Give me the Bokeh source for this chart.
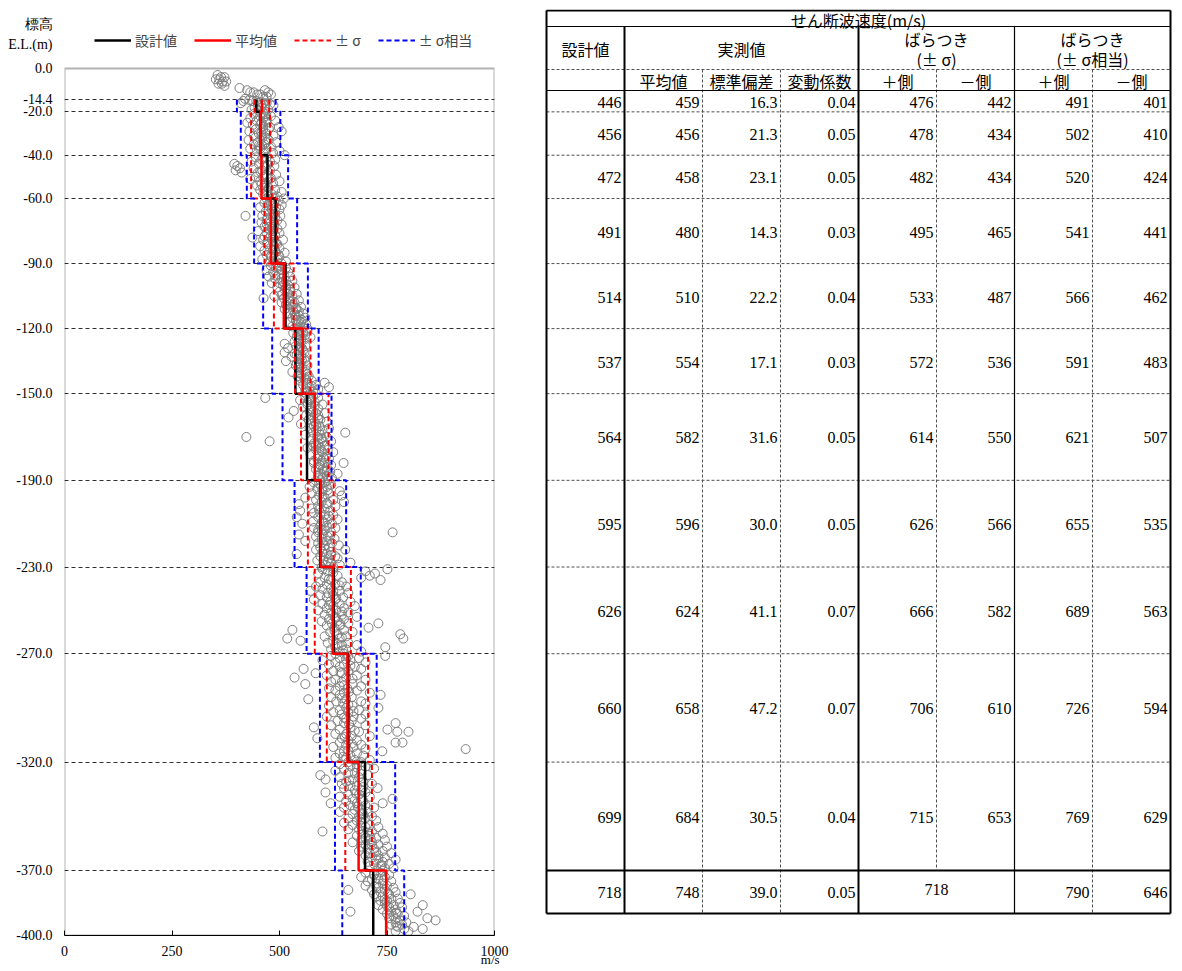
from bokeh.plotting import figure
from bokeh.models import Range1d, FixedTicker, NumeralTickFormatter, Legend, LegendItem, BoxAnnotation, LinearAxis
from bokeh.layouts import row
from bokeh.embed import file_html
from bokeh.resources import INLINE
from bokeh.core.properties import value

# ---------------- data ----------------
layer_top = [-14.4, -20.0, -40.0, -60.0, -90.0, -120.0, -150.0, -190.0, -230.0, -270.0, -320.0, -370.0]
layer_bottom = [-20.0, -40.0, -60.0, -90.0, -120.0, -150.0, -190.0, -230.0, -270.0, -320.0, -370.0, -400.0]
vs_design = [446, 456, 472, 491, 514, 537, 564, 595, 626, 660, 699, 718]
vs_mean = [459, 456, 458, 480, 510, 554, 582, 596, 624, 658, 684, 748]
vs_std = [16.3, 21.3, 23.1, 14.3, 22.2, 17.1, 31.6, 30.0, 41.1, 47.2, 30.5, 39.0]
vs_cv = [0.04, 0.05, 0.05, 0.03, 0.04, 0.03, 0.05, 0.05, 0.07, 0.07, 0.04, 0.05]
sig_plus = [476, 478, 482, 495, 533, 572, 614, 626, 666, 706, 715, None]
sig_minus = [442, 434, 434, 465, 487, 536, 550, 566, 582, 610, 653, None]
sig_merged_last = 718
eq_plus = [491, 502, 520, 541, 566, 591, 621, 655, 689, 726, 769, 790]
eq_minus = [401, 410, 424, 441, 462, 483, 507, 535, 563, 594, 629, 646]

y_ticks = [0.0, -14.4, -20.0, -40.0, -60.0, -90.0, -120.0, -150.0, -190.0, -230.0, -270.0, -320.0, -370.0, -400.0]
x_ticks = [0, 250, 500, 750, 1000]
y_axis_title = ["標高", "E.L.(m)"]
x_axis_title = "m/s"

legend_labels = ["設計値", "平均値", "± σ", "± σ相当"]
table_title = "せん断波速度(m/s)"
header_design = "設計値"
header_meas = "実測値"
header_var1 = ["ばらつき", "(± σ)"]
header_var2 = ["ばらつき", "(± σ相当)"]
sub_headers = ["", "平均値", "標準偏差", "変動係数", "＋側", "－側", "＋側", "－側"]

obs_rows = [
    (-3, [356]), (-4, [364, 372]), (-5, [352, 360]), (-6, [368, 376]), (-7, [358, 366]), (-8, [372]),
    (-9, [407]), (-10, [425, 466]), (-11, [432, 440, 474]), (-12, [448, 455, 480]), (-13, [462, 470]),
    (-14, [420]), (-14.5, [430]), (-15, [416, 438, 446]), (-15.5, [455]), (-16, [410, 462, 470]),
    (-16.5, [478]), (-17, [450, 486]), (-18, [442, 458]), (-18.5, [466]), (-19, [435, 474]), (-19.5, [452]),
    (-21, [440, 468]), (-22, [455, 480, 466]), (-23, [432, 462]), (-24, [447, 490]), (-25, [425, 470, 458]),
    (-26, [438, 455]), (-27, [478, 498]), (-28, [445, 462, 475]), (-29, [430, 505]), (-30, [452, 470]),
    (-31, [440, 486, 458]), (-32, [460]), (-33, [428, 475]), (-34, [450, 492, 468]), (-35, [440, 465]),
    (-36, [455, 480]), (-37, [432, 470, 455]), (-38, [447, 500]), (-39, [462, 485]), (-40, [512]),
    (-41, [445, 470]), (-42, [458, 490]), (-43, [435, 478]), (-44, [395, 452]), (-45, [402, 466, 488]),
    (-46, [408, 440]), (-47, [398, 460, 478]), (-48, [412, 450]), (-49, [470, 492]), (-50, [445, 462]),
    (-51, [432, 478]), (-52, [455, 500]), (-53, [468, 485]), (-54, [448, 465]), (-55, [462, 475]),
    (-56, [455, 490]), (-57, [470, 505]), (-58, [462, 482]), (-59, [475, 495]), (-60, [470, 510]),
    (-61, [478, 498]), (-62, [465, 488]), (-63, [472, 505]), (-64, [455, 492]), (-65, [482, 500]),
    (-66, [468, 485]), (-67, [476, 490]), (-68, [421, 460, 502]), (-69, [485, 472]), (-70, [470, 495]),
    (-71, [458, 480]), (-72, [488, 505]), (-73, [465, 478]), (-74, [483, 495]), (-75, [450, 485]),
    (-76, [470, 500]), (-77, [480, 490]), (-78, [437, 478]), (-79, [462, 508]), (-80, [485, 472]),
    (-81, [472, 495]), (-82, [455, 488]), (-83, [478, 500]), (-84, [465, 490]), (-85, [490, 512]),
    (-86, [470, 498]), (-87, [482, 500]), (-88, [460, 495]), (-89, [478, 515]), (-90, [505]),
    (-91, [480, 500]), (-92, [492, 515]), (-93, [470, 505]), (-94, [485, 520]), (-95, [498, 510]),
    (-96, [475, 525]), (-97, [490, 505]), (-98, [515, 530]), (-99, [482, 500]), (-100, [508, 520]),
    (-101, [495, 535]), (-102, [512, 525]), (-103, [500, 525]), (-104, [518, 540]), (-105, [488, 530]),
    (-106, [463, 510, 522]), (-107, [522, 545]), (-108, [505, 535]), (-109, [515, 532]), (-110, [528, 550]),
    (-111, [512, 540]), (-112, [532, 545]), (-113, [520, 555]), (-114, [538, 545]), (-115, [530, 560]),
    (-116, [538, 552]), (-117, [522, 550]), (-118, [540, 562]), (-119, [530, 548]), (-120, [565, 545]),
    (-121, [545, 565]), (-122, [532, 555]), (-123, [548, 560]), (-124, [540, 572]), (-125, [550, 558]),
    (-126, [535, 550]), (-127, [512, 545]), (-128, [538, 560]), (-129, [520, 552]), (-130, [545, 555]),
    (-131, [512, 558]), (-132, [540, 550]), (-133, [528, 550]), (-134, [545, 558]), (-135, [515, 560]),
    (-136, [548, 540]), (-137, [538, 565]), (-138, [552, 545]), (-139, [545, 560]), (-140, [530, 560]),
    (-141, [550, 565]), (-142, [542, 568]), (-143, [558, 550]), (-144, [548, 575]), (-145, [565, 605]),
    (-146, [555, 585]), (-147, [570, 615]), (-148, [560, 590]), (-149, [578, 565]), (-150, [570, 585]),
    (-151, [560, 578]), (-152, [467, 590]), (-153, [548, 570]), (-154, [582, 565]), (-155, [565, 600]),
    (-156, [555, 575]), (-157, [590, 572]), (-158, [533, 570]), (-159, [585, 605]), (-160, [562, 590]),
    (-161, [521, 578]), (-162, [568, 595]), (-163, [582, 610]), (-164, [550, 575]), (-165, [592, 580]),
    (-166, [570, 615]), (-167, [585, 600]), (-168, [578, 653]), (-169, [560, 595]), (-170, [423, 588, 610]),
    (-171, [575, 598]), (-172, [477, 600, 620]), (-173, [590, 580]), (-174, [578, 605]), (-175, [565, 595]),
    (-176, [585, 612]), (-177, [600, 625]), (-178, [572, 592]), (-179, [608, 590]), (-180, [588, 615]),
    (-181, [598, 580]), (-182, [580, 605, 649]), (-183, [620, 595]), (-184, [592, 610]), (-185, [585, 600]),
    (-186, [603, 618]), (-187, [595, 635]), (-188, [590, 610]), (-189, [600, 622]), (-190, [612, 595]),
    (-191, [580, 605]), (-192, [595, 620]), (-193, [570, 610]), (-194, [588, 600]), (-195, [600, 640]),
    (-196, [575, 615]), (-197, [592, 645]), (-198, [560, 605]), (-199, [585, 625]), (-200, [598, 650]),
    (-201, [545, 612]), (-202, [590, 630]), (-203, [575, 605]), (-204, [548, 618]), (-205, [580, 595]),
    (-206, [605, 625]), (-207, [540, 590]), (-208, [612, 635]), (-209, [578, 600]), (-210, [553, 622]),
    (-211, [595, 610]), (-212, [580, 630]), (-213, [605, 590]), (-214, [590, 620, 763]), (-215, [545, 600]),
    (-216, [585, 612]), (-217, [598, 628]), (-218, [560, 610]), (-219, [590, 622]), (-220, [605, 638]),
    (-221, [595, 615]), (-222, [585, 653]), (-223, [600, 620]), (-224, [540, 610]), (-225, [595, 630]),
    (-226, [615, 635]), (-227, [588, 602]), (-228, [620, 665]), (-229, [608, 640]), (-230, [598, 625]),
    (-231, [600, 625, 751]), (-232, [612, 700]), (-233, [590, 722]), (-234, [635, 710]), (-235, [605, 690]),
    (-236, [620, 735]), (-237, [595, 645]), (-238, [610, 630]), (-239, [585, 655]), (-240, [600, 620]),
    (-241, [572, 640]), (-242, [612, 660]), (-243, [595, 625]), (-244, [610, 648]), (-245, [580, 630]),
    (-246, [618, 665]), (-247, [600, 640]), (-248, [625, 675]), (-249, [610, 650]), (-250, [590, 632]),
    (-251, [620, 660]), (-252, [605, 645]), (-253, [628, 680]), (-254, [615, 650]), (-255, [598, 635]),
    (-256, [622, 660, 730]), (-257, [610, 640]), (-258, [628, 707]), (-259, [530, 650]), (-260, [618, 670]),
    (-261, [635, 781]), (-262, [605, 655]), (-263, [518, 640, 788]), (-264, [549, 625]), (-265, [612, 660]),
    (-266, [645, 680]), (-267, [630, 746]), (-268, [620, 655]), (-269, [640, 690]), (-270, [650, 630]),
    (-271, [620, 660, 746]), (-272, [640, 685]), (-273, [600, 665]), (-274, [630, 700]), (-275, [615, 650]),
    (-276, [640, 675]), (-277, [556, 690]), (-278, [625, 660]), (-279, [584, 645]), (-280, [610, 680]),
    (-281, [535, 655]), (-282, [630, 700]), (-283, [620, 645]), (-284, [560, 670]), (-285, [640, 690]),
    (-286, [615, 658]), (-287, [630, 680]), (-288, [650, 710]), (-289, [640, 735]), (-290, [620, 668]),
    (-291, [567, 655]), (-292, [632, 690]), (-293, [648, 700]), (-294, [615, 670]), (-295, [655, 730]),
    (-296, [640, 685]), (-297, [625, 660]), (-298, [645, 700]), (-299, [610, 672]), (-300, [655, 690]),
    (-301, [635, 668]), (-302, [650, 770]), (-303, [620, 700]), (-304, [580, 665]), (-305, [640, 751]),
    (-306, [685, 774, 800]), (-307, [630, 655]), (-308, [668, 710]), (-309, [588, 645]), (-310, [660, 680]),
    (-311, [640, 770, 786]), (-312, [655, 690]), (-313, [625, 672]), (-314, [700, 933]), (-315, [650, 739]),
    (-316, [640, 680]), (-317, [665, 695]), (-318, [630, 655]), (-319, [675, 710]), (-320, [660, 690]),
    (-321, [640, 680]), (-322, [665, 700]), (-323, [650, 720]), (-324, [630, 690]), (-325, [660, 675]),
    (-326, [595, 705]), (-327, [640, 685]), (-328, [607, 670]), (-329, [655, 695]), (-330, [645, 715]),
    (-331, [665, 680]), (-332, [650, 728]), (-333, [675, 690]), (-334, [607, 700]), (-335, [660, 685]),
    (-336, [640, 710]), (-337, [670, 763]), (-338, [655, 695]), (-339, [619, 680, 740]), (-340, [665, 700]),
    (-341, [650, 720]), (-342, [675, 688]), (-343, [640, 705]), (-344, [670, 695]), (-345, [685, 715]),
    (-346, [660, 700]), (-347, [680, 725]), (-348, [650, 690]), (-349, [670, 710]), (-350, [700, 730]),
    (-351, [660, 685]), (-352, [600, 715]), (-353, [695, 740]), (-354, [680, 710]), (-355, [700, 725]),
    (-356, [690, 745]), (-357, [670, 715]), (-358, [700, 730]), (-359, [690, 750]), (-360, [705, 720]),
    (-361, [685, 740]), (-362, [710, 760]), (-363, [700, 730]), (-364, [715, 745]), (-365, [725, 770]),
    (-366, [705, 740]), (-367, [720, 755]), (-368, [710, 735]), (-369, [745, 765]), (-370, [725, 740]),
    (-371, [700, 735]), (-372, [720, 755]), (-373, [690, 745]), (-374, [715, 730]), (-375, [705, 760]),
    (-376, [725, 740]), (-377, [700, 750]), (-378, [730, 765]), (-379, [660, 715, 745]), (-380, [735, 770]),
    (-381, [720, 755, 805]), (-382, [725, 740]), (-383, [760, 775]), (-384, [735, 750]), (-385, [745, 780]),
    (-386, [730, 765, 833]), (-387, [755, 785]), (-388, [740, 770]), (-389, [665, 760, 821]), (-390, [750, 775]),
    (-391, [765, 790]), (-392, [755, 844]), (-393, [780, 863]), (-394, [770, 795]), (-395, [760, 785]),
    (-396, [775, 812]), (-397, [790, 833]), (-398, [770, 800]),
    # densest core of the cloud
    (-20.5, [462]), (-23.5, [470]), (-26.5, [462]), (-29.5, [458]), (-32.5, [472]), (-35.5, [452]),
    (-38.5, [468]), (-41.5, [462]), (-44.5, [472]), (-47.5, [455]), (-50.5, [480]), (-53.5, [458]),
    (-56.5, [472]), (-59.5, [485]), (-62.5, [480]), (-65.5, [475]), (-68.5, [490]), (-71.5, [470]),
    (-74.5, [478]), (-77.5, [465]), (-80.5, [492]), (-83.5, [486]), (-86.5, [480]), (-89.5, [495]),
    (-92.5, [502]), (-95.5, [490]), (-98.5, [508]), (-101.5, [515]), (-104.5, [505]), (-107.5, [530]),
    (-110.5, [538]), (-113.5, [535]), (-116.5, [545]), (-119.5, [555]), (-122.5, [542]), (-125.5, [545]),
    (-128.5, [548]), (-131.5, [535]), (-134.5, [552]), (-137.5, [548]), (-140.5, [545]), (-143.5, [562]),
    (-146.5, [575]), (-149.5, [560]), (-152.5, [575]), (-155.5, [582]), (-158.5, [578]), (-161.5, [590]),
    (-164.5, [585]), (-167.5, [592]), (-170.5, [598]), (-173.5, [585]), (-176.5, [598]), (-179.5, [602]),
    (-182.5, [592]), (-185.5, [610]), (-188.5, [600]), (-191.5, [592]), (-194.5, [612]), (-197.5, [600]),
    (-200.5, [610]), (-203.5, [592]), (-206.5, [615]), (-209.5, [605]), (-212.5, [598]), (-215.5, [618]),
    (-218.5, [600]), (-221.5, [605]), (-224.5, [620]), (-227.5, [612]), (-232.5, [625]), (-235.5, [615]),
    (-238.5, [640]), (-241.5, [625]), (-244.5, [632]), (-247.5, [615]), (-250.5, [645]), (-253.5, [630]),
    (-256.5, [642]), (-259.5, [628]), (-262.5, [645]), (-265.5, [635]), (-268.5, [648]), (-272.5, [655]),
    (-275.5, [665]), (-278.5, [642]), (-281.5, [670]), (-284.5, [650]), (-287.5, [662]), (-290.5, [645]),
    (-293.5, [660]), (-296.5, [672]), (-299.5, [650]), (-302.5, [662]), (-305.5, [675]), (-308.5, [652]),
    (-311.5, [668]), (-314.5, [660]), (-317.5, [648]), (-322.5, [680]), (-325.5, [690]), (-328.5, [662]),
    (-331.5, [695]), (-334.5, [678]), (-337.5, [690]), (-340.5, [682]), (-343.5, [692]), (-346.5, [690]),
    (-349.5, [690]), (-352.5, [705]), (-355.5, [712]), (-358.5, [715]), (-361.5, [725]), (-364.5, [730]),
    (-367.5, [738]), (-371.5, [720]), (-374.5, [742]), (-377.5, [725]), (-380.5, [752]), (-383.5, [745]),
    (-386.5, [750]), (-389.5, [772]), (-392.5, [770]), (-395.5, [772]),
]
obs_elev = [e for e, vs in obs_rows for _ in vs]
obs_vs = [v for e, vs in obs_rows for v in vs]


def step(vals):
    xs, ys = [], []
    for v, t, b in zip(vals, layer_top, layer_bottom):
        if v is None:
            break
        xs += [v, v]
        ys += [t, b]
    return xs, ys


SERIF = "Liberation Serif"
CJK = "Noto Sans CJK JP"

# page geometry (px)
FIG_H = 969
FRAME_TOP = 9          # frame starts here so the header row fits inside the plotting area
BOX_TOP = 68           # y = 0 m
BOX_BOT = 935          # y = -400 m
px_per_m = (BOX_BOT - BOX_TOP) / 400.0
y_top_elev = (BOX_TOP - FRAME_TOP) / px_per_m
UNIT_LABEL_X = 990     # where the "m/s" unit sits along the x axis

# ---------------- chart ----------------
p = figure(width=544, height=FIG_H, x_range=Range1d(0, 1000), y_range=Range1d(-400, y_top_elev),
           output_backend="svg", toolbar_location=None,
           min_border_left=64, min_border_right=50, min_border_top=FRAME_TOP,
           min_border_bottom=FIG_H - BOX_BOT)
p.outline_line_color = None
p.background_fill_color = "white"

p.xaxis.ticker = FixedTicker(ticks=x_ticks)
p.xaxis.major_tick_in = 5
p.xaxis.major_tick_out = 0
p.xaxis.minor_tick_line_color = None
p.xaxis.major_label_text_font = SERIF
p.xaxis.major_label_text_font_size = "14px"
p.xaxis.major_label_text_color = "black"
p.xaxis.major_label_standoff = 10
p.xaxis.axis_line_color = "black"

# unit label of the x axis, placed at the right end below the tick labels
unit_axis = LinearAxis(ticker=FixedTicker(ticks=[UNIT_LABEL_X]),
                       major_label_overrides={UNIT_LABEL_X: x_axis_title},
                       axis_line_color=None, major_tick_line_color=None,
                       major_tick_in=0, major_tick_out=0, minor_tick_line_color=None,
                       major_label_standoff=-7, major_label_text_font=SERIF,
                       major_label_text_font_size="13px", major_label_text_color="black")
p.add_layout(unit_axis, "below")

# the y axis carries the elevation ticks plus the two-line axis title above 0 m
title_elevs = [y_top_elev - (24 - FRAME_TOP) / px_per_m, y_top_elev - (44 - FRAME_TOP) / px_per_m]
p.yaxis.ticker = FixedTicker(ticks=title_elevs + y_ticks)
p.yaxis.formatter = NumeralTickFormatter(format="0.0")
p.yaxis.major_label_overrides = {title_elevs[0]: y_axis_title[0], title_elevs[1]: y_axis_title[1]}
p.yaxis.major_tick_line_color = None
p.yaxis.major_tick_in = 0
p.yaxis.major_tick_out = 0
p.yaxis.minor_tick_line_color = None
p.yaxis.major_label_text_font = SERIF
p.yaxis.major_label_text_font_size = "14px"
p.yaxis.major_label_text_color = "black"
p.yaxis.major_label_standoff = 12
p.yaxis.axis_line_color = None

p.xgrid.grid_line_color = None
p.ygrid.ticker = FixedTicker(ticks=layer_top + [-400.0])
p.ygrid.grid_line_color = "#303030"
p.ygrid.grid_line_dash = "4 3"
p.ygrid.grid_line_width = 1

p.scatter(obs_vs, obs_elev, marker="circle", size=9, fill_color=None,
          line_color="#808080", line_width=1)

r_design = p.line(*step(vs_design), line_color="black", line_width=2.5)
r_mean = p.line(*step(vs_mean), line_color="#ff0000", line_width=2.5)
r_sp = p.line(*step(sig_plus), line_color="#ff0000", line_width=2, line_dash="5 3")
r_sm = p.line(*step(sig_minus), line_color="#ff0000", line_width=2, line_dash="5 3")
r_ep = p.line(*step(eq_plus), line_color="#0000ff", line_width=2, line_dash="5 3")
r_em = p.line(*step(eq_minus), line_color="#0000ff", line_width=2, line_dash="5 3")

# plot box from 0 m to -400 m
p.add_layout(BoxAnnotation(left=0, right=1000, bottom=-400, top=0, fill_color=None,
                           line_color="black", line_width=2))

legend = Legend(items=[LegendItem(label=legend_labels[0], renderers=[r_design]),
                       LegendItem(label=legend_labels[1], renderers=[r_mean]),
                       LegendItem(label=legend_labels[2], renderers=[r_sp]),
                       LegendItem(label=legend_labels[3], renderers=[r_ep])],
                orientation="horizontal", location=(30, BOX_BOT - 50), glyph_width=37, glyph_height=14,
                label_standoff=4, spacing=17, padding=0, margin=0,
                background_fill_alpha=0, border_line_color=None,
                label_text_font=CJK, label_text_font_size="14px", label_height=20)
p.add_layout(legend)

# ---------------- table ----------------
def el2px(e):
    return BOX_TOP + (-e) * px_per_m

col_edges = [546 + 78 * i for i in range(9)]
T_TOP, T_TITLE, T_HEAD, T_SUB, T_BOT = 10, 26, 69, 90, 913
row_bounds = [T_SUB] + [el2px(b) for b in layer_bottom[:-1]] + [T_BOT]

t = figure(width=636, height=FIG_H, x_range=Range1d(544, 1180), y_range=Range1d(BOX_BOT, FRAME_TOP),
           output_backend="svg", toolbar_location=None,
           min_border_left=0, min_border_right=0, min_border_top=FRAME_TOP,
           min_border_bottom=FIG_H - BOX_BOT,
           x_axis_type=None, y_axis_type=None, outline_line_color=None)
t.xgrid.visible = False
t.ygrid.visible = False

L, R = col_edges[0], col_edges[-1]


def seg(lst, a, b, c, d):
    lst[0].append(a); lst[1].append(b); lst[2].append(c); lst[3].append(d)


dashed = ([], [], [], [])
seg(dashed, L, T_HEAD, R, T_HEAD)
for yb in row_bounds[1:-2]:
    seg(dashed, L, yb, R, yb)
for ci in (2, 3, 7):
    seg(dashed, col_edges[ci], T_HEAD, col_edges[ci], T_BOT)
seg(dashed, col_edges[5], T_HEAD, col_edges[5], row_bounds[-2])
t.segment(*dashed, line_color="#505050", line_width=1, line_dash="3 2")

thin = ([], [], [], [])
seg(thin, L, T_TITLE, R, T_TITLE)
seg(thin, L, T_SUB, R, T_SUB)
seg(thin, col_edges[6], T_TITLE, col_edges[6], T_BOT)
t.segment(*thin, line_color="black", line_width=1.2)

thick = ([], [], [], [])
seg(thick, L, T_TOP, R, T_TOP)
seg(thick, L, T_BOT, R, T_BOT)
seg(thick, L, T_TOP, L, T_BOT)
seg(thick, R, T_TOP, R, T_BOT)
seg(thick, col_edges[1], T_TITLE, col_edges[1], T_BOT)
seg(thick, col_edges[4], T_TITLE, col_edges[4], T_BOT)
seg(thick, L, row_bounds[-2], R, row_bounds[-2])
t.segment(*thick, line_color="black", line_width=2)

# header texts
hx = [(L + R) / 2, (col_edges[0] + col_edges[1]) / 2, (col_edges[1] + col_edges[4]) / 2,
      (col_edges[4] + col_edges[6]) / 2, (col_edges[4] + col_edges[6]) / 2,
      (col_edges[6] + col_edges[8]) / 2, (col_edges[6] + col_edges[8]) / 2]
hy = [(T_TOP + T_TITLE) / 2 + 1, (T_TITLE + T_HEAD) / 2 + 1, (T_TITLE + T_HEAD) / 2 + 1,
      38, 58, 38, 58]
htxt = [table_title, header_design, header_meas, header_var1[0], header_var1[1],
        header_var2[0], header_var2[1]]
for ci, s in enumerate(sub_headers):
    if s:
        hx.append((col_edges[ci] + col_edges[ci + 1]) / 2)
        hy.append((T_HEAD + T_SUB) / 2 + 1)
        htxt.append(s)
t.text(hx, hy, text=htxt, text_align="center", text_baseline="middle",
       text_font=value(CJK), text_font_size="16px", text_color="black")

# data texts
nx, ny, ntxt = [], [], []
for i in range(len(vs_design)):
    yc = (row_bounds[i] + row_bounds[i + 1]) / 2 + 1
    cells = [str(vs_design[i]), str(vs_mean[i]), f"{vs_std[i]:.1f}", f"{vs_cv[i]:.2f}",
             None if sig_plus[i] is None else str(sig_plus[i]),
             None if sig_minus[i] is None else str(sig_minus[i]),
             str(eq_plus[i]), str(eq_minus[i])]
    for ci, s in enumerate(cells):
        if s is not None:
            nx.append(col_edges[ci + 1] - 3)
            ny.append(yc)
            ntxt.append(s)
t.text(nx, ny, text=ntxt, text_align="right", text_baseline="middle",
       text_font=value(SERIF), text_font_size="16px", text_color="black")
last_yc = (row_bounds[-2] + row_bounds[-1]) / 2 - 2
t.text([(col_edges[4] + col_edges[6]) / 2], [last_yc], text=[str(sig_merged_last)],
       text_align="center", text_baseline="middle",
       text_font=value(SERIF), text_font_size="16px", text_color="black")

layout = row(p, t)
open("out.html", "w").write(file_html(layout, INLINE))
